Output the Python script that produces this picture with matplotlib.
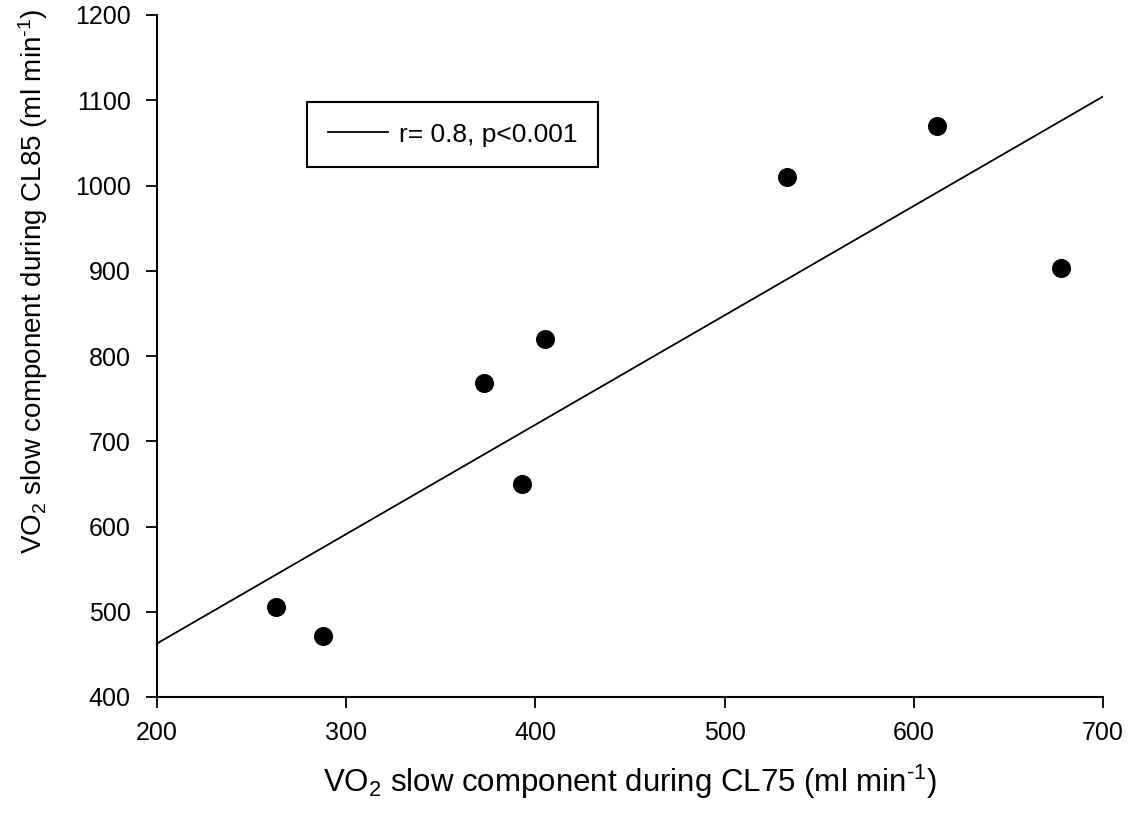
import numpy as np
import matplotlib
matplotlib.use('Agg')
import matplotlib.pyplot as plt

# VO2 slow component, CL75 vs CL85
vo2_cl75 = [263, 288, 373, 393, 405, 533, 612, 678]
vo2_cl85 = [506, 471, 768, 650, 820, 1010, 1070, 903]
legend_label = 'r= 0.8, p<0.001'
x_ticks = [200, 300, 400, 500, 600, 700]
y_ticks = [400, 500, 600, 700, 800, 900, 1000, 1100, 1200]

plt.rcParams['font.family'] = ['Liberation Sans', 'DejaVu Sans']
plt.rcParams['mathtext.fontset'] = 'custom'
plt.rcParams['mathtext.rm'] = 'Liberation Sans'
plt.rcParams['mathtext.it'] = 'Liberation Sans'

fig = plt.figure(figsize=(11.28, 8.18), dpi=100)
ax = fig.add_axes([157 / 1128, 121 / 818, 946 / 1128, 682 / 818])

# linear regression line across the whole x range
slope, icpt = np.polyfit(vo2_cl75, vo2_cl85, 1)
xx = np.array([x_ticks[0], x_ticks[-1]])
ax.plot(xx, slope * xx + icpt, color='black', lw=1.3, label=legend_label)

ax.plot(vo2_cl75, vo2_cl85, 'o', color='black', markersize=12.7, ls='none')

ax.set_xlim(x_ticks[0], x_ticks[-1])
ax.set_ylim(y_ticks[0], y_ticks[-1])
ax.set_xticks(x_ticks)
ax.set_yticks(y_ticks)

for s in ['top', 'right']:
    ax.spines[s].set_visible(False)
for s in ['left', 'bottom']:
    ax.spines[s].set_linewidth(1.5)

ax.tick_params(axis='both', direction='out', length=8, width=1.3, labelsize=18, colors='black')
ax.tick_params(axis='x', pad=9)
ax.tick_params(axis='y', pad=11)

ax.set_xlabel(r'VO$_2$ slow component during CL75 (ml min$^{\text{-1}}$)', fontsize=22.5)
ax.set_ylabel(r'VO$_2$ slow component during CL85 (ml min$^{\text{-1}}$)', fontsize=20)
ax.xaxis.set_label_coords(0.5, -0.097)
ax.yaxis.set_label_coords(-0.113, 0.61)

leg = ax.legend(loc='upper left', bbox_to_anchor=(0.1586, 0.8724), borderaxespad=0,
                fontsize=19, frameon=True, fancybox=False, shadow=False,
                handlelength=2.3, handletextpad=0.4, borderpad=0.78)
leg.get_frame().set_edgecolor('black')
leg.get_frame().set_linewidth(1.5)
leg.get_frame().set_alpha(1)

fig.savefig('out.png', dpi=100)
